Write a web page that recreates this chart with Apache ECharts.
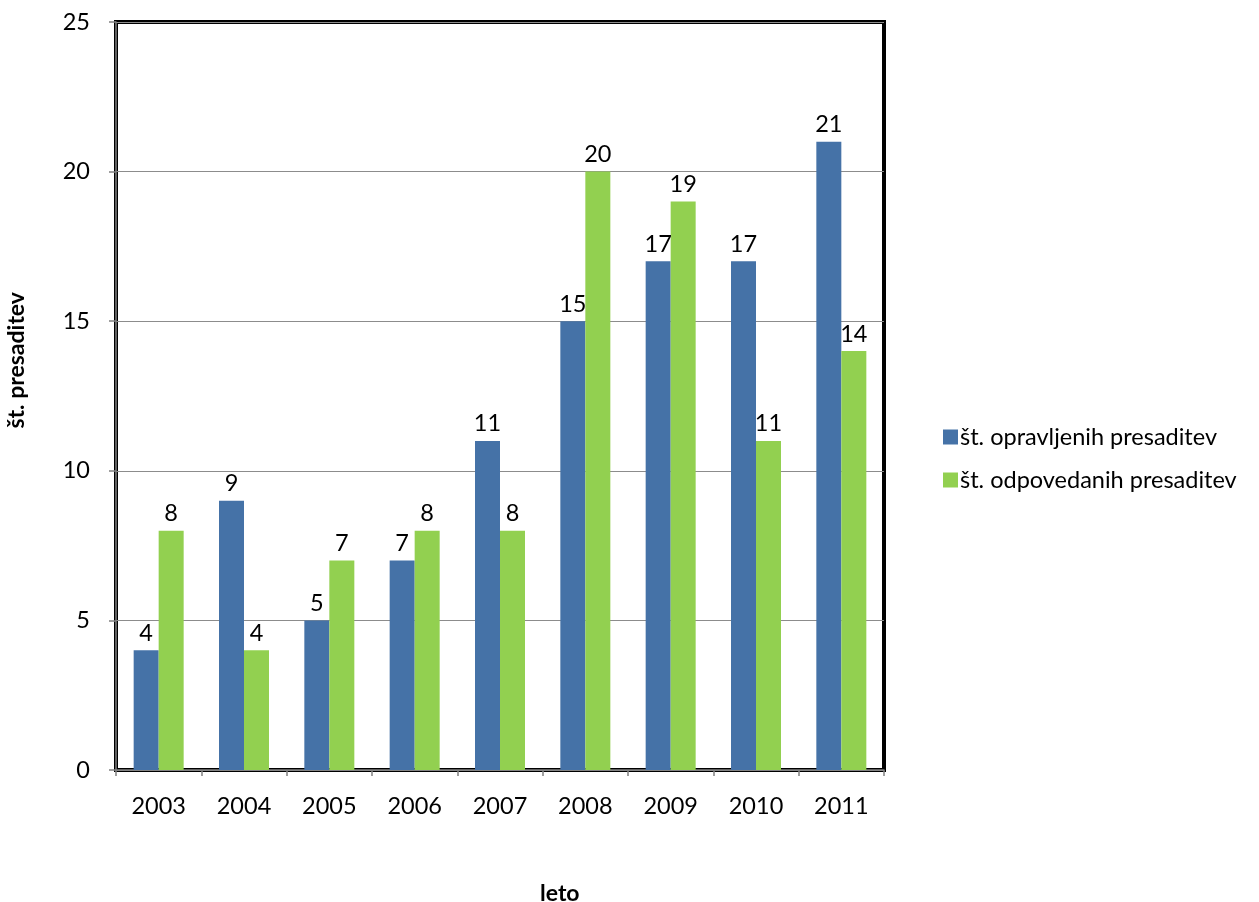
<!DOCTYPE html>
<html><head><meta charset="utf-8">
<script src="https://cdn.jsdelivr.net/npm/echarts@6/dist/echarts.min.js"></script>
<style>html,body{margin:0;padding:0;background:#fff}#c{width:1259px;height:902px}</style>
</head><body><div id="c"></div>
<script>
const years = ['2003','2004','2005','2006','2007','2008','2009','2010','2011'];
const performed = [4, 9, 5, 7, 11, 15, 17, 17, 21];
const cancelled = [8, 4, 7, 8, 8, 20, 19, 11, 14];
const seriesNames = ['št. opravljenih presaditev', 'št. odpovedanih presaditev'];
const yTitle = 'št. presaditev';
const xTitle = 'leto';
const FONT = 'Lato, "Open Sans", sans-serif';
const FS = 23.5;
const chart = echarts.init(document.getElementById('c'));
const lbl = {show:true, position:'top', color:'#000', fontSize:FS, fontFamily:FONT, distance:5};
chart.setOption({
  animation:false,
  textStyle:{fontFamily:FONT},
  grid:{left:116, top:22, width:768, height:748, show:true, borderColor:'#000', borderWidth:4, backgroundColor:'#fff'},
  legend:{orient:'vertical', left:938, top:420, itemWidth:15, itemHeight:15, itemGap:19, icon:'rect',
    textStyle:{fontSize:FS, color:'#000', fontFamily:FONT, padding:[0,0,0,-3]}, data:seriesNames},
  xAxis:{type:'category', data:years,
    axisLine:{lineStyle:{color:'#808080', width:1.5}},
    axisTick:{show:true, alignWithLabel:false, length:6, lineStyle:{color:'#808080', width:1.5}},
    axisLabel:{color:'#000', fontSize:FS, margin:24, fontFamily:FONT}},
  yAxis:{type:'value', min:0, max:25, interval:5,
    axisLine:{show:true, lineStyle:{color:'#808080', width:1.5}},
    axisTick:{show:true, length:7, lineStyle:{color:'#808080', width:1.5}},
    splitLine:{lineStyle:{color:'#8c8c8c', width:1}},
    axisLabel:{color:'#000', fontSize:FS, margin:26, fontFamily:FONT}},
  graphic:[
    {type:'text', left:5, top:292, rotation:Math.PI/2, style:{text:yTitle, fill:'#000', font:'bold 23px '+FONT}},
    {type:'text', left:540, top:882, style:{text:xTitle, fill:'#000', font:'bold 23px '+FONT}}
  ],
  series:[
    {name:seriesNames[0], type:'bar', data:performed, barWidth:25, barGap:'0%', itemStyle:{color:'#4572A7'}, label:lbl},
    {name:seriesNames[1], type:'bar', data:cancelled, barWidth:25, barGap:'0%', itemStyle:{color:'#92D050'}, label:lbl}
  ]
});
</script></body></html>
